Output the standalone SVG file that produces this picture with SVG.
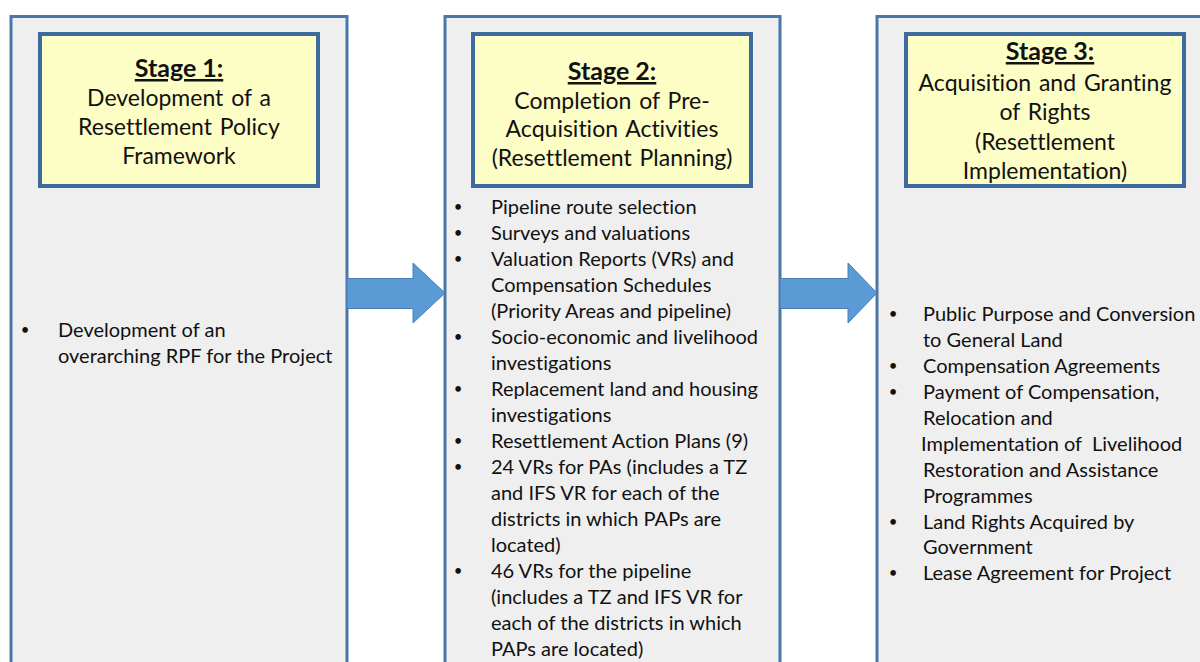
<svg xmlns="http://www.w3.org/2000/svg" width="1200" height="662" viewBox="0 0 1200 662">
<style>
.panel{fill:#efefef;stroke:#4a76a8;stroke-width:3}
.head{fill:#fdfdc6;stroke:#3e6b9e;stroke-width:4}
.arrow{fill:#5b9bd5;stroke:#4a7ebb;stroke-width:1}
text{font-family:Lato,"Liberation Sans",sans-serif;fill:#111;font-variant-ligatures:none}
.h{font-size:23px;text-anchor:middle;word-spacing:2px}
.st{font-size:25px;font-weight:bold;text-anchor:middle;text-decoration:underline}
.b{font-size:20px}
.d{font-size:15px;text-anchor:middle}
</style>
<rect width="1200" height="662" fill="#ffffff"/>
<g id="stage1">
<rect class="panel" x="11" y="16.5" width="336" height="660"/>
<rect class="head" x="40" y="34" width="278" height="152"/>
<text class="st" x="179" y="77">Stage 1:</text>
<text class="h" x="179" y="106">Development of a</text>
<text class="h" x="179" y="135">Resettlement Policy</text>
<text class="h" x="179" y="164">Framework</text>
<text class="d" x="25" y="335">•</text>
<text class="b" x="58" y="337">Development of an</text>
<text class="b" x="58" y="363">overarching RPF for the Project</text>
</g>
<g id="stage2">
<rect class="panel" x="445" y="16.5" width="335" height="660"/>
<rect class="head" x="473" y="34" width="278" height="152"/>
<text class="st" x="612" y="80">Stage 2:</text>
<text class="h" x="612" y="109">Completion of Pre-</text>
<text class="h" x="612" y="137">Acquisition Activities</text>
<text class="h" x="612" y="166">(Resettlement Planning)</text>
<text class="d" x="458" y="212">•</text>
<text class="b" x="491" y="214">Pipeline route selection</text>
<text class="d" x="458" y="238">•</text>
<text class="b" x="491" y="240">Surveys and valuations</text>
<text class="d" x="458" y="264">•</text>
<text class="b" x="491" y="266">Valuation Reports (VRs) and</text>
<text class="b" x="491" y="292">Compensation Schedules</text>
<text class="b" x="491" y="318">(Priority Areas and pipeline)</text>
<text class="d" x="458" y="342">•</text>
<text class="b" x="491" y="344">Socio-economic and livelihood</text>
<text class="b" x="491" y="370">investigations</text>
<text class="d" x="458" y="394">•</text>
<text class="b" x="491" y="396">Replacement land and housing</text>
<text class="b" x="491" y="422">investigations</text>
<text class="d" x="458" y="446">•</text>
<text class="b" x="491" y="448">Resettlement Action Plans (9)</text>
<text class="d" x="458" y="472">•</text>
<text class="b" x="491" y="474">24 VRs for PAs (includes a TZ</text>
<text class="b" x="491" y="500">and IFS VR for each of the</text>
<text class="b" x="491" y="526">districts in which PAPs are</text>
<text class="b" x="491" y="552">located)</text>
<text class="d" x="458" y="576">•</text>
<text class="b" x="491" y="578">46 VRs for the pipeline</text>
<text class="b" x="491" y="604">(includes a TZ and IFS VR for</text>
<text class="b" x="491" y="630">each of the districts in which</text>
<text class="b" x="491" y="656">PAPs are located)</text>
</g>
<g id="stage3">
<rect class="panel" x="877" y="16.5" width="340" height="660"/>
<rect class="head" x="906" y="34" width="278" height="152"/>
<text class="st" x="1050" y="60">Stage 3:</text>
<text class="h" x="1045" y="91">Acquisition and Granting</text>
<text class="h" x="1045" y="120">of Rights</text>
<text class="h" x="1045" y="150">(Resettlement</text>
<text class="h" x="1045" y="179">Implementation)</text>
<text class="d" x="893" y="319">•</text>
<text class="b" x="923" y="321">Public Purpose and Conversion</text>
<text class="b" x="923" y="347">to General Land</text>
<text class="d" x="893" y="371">•</text>
<text class="b" x="923" y="373">Compensation Agreements</text>
<text class="d" x="893" y="397">•</text>
<text class="b" x="923" y="399">Payment of Compensation,</text>
<text class="b" x="923" y="425">Relocation and</text>
<text class="b" x="921" y="451" xml:space="preserve">Implementation of  Livelihood</text>
<text class="b" x="923" y="477">Restoration and Assistance</text>
<text class="b" x="923" y="503">Programmes</text>
<text class="d" x="893" y="527">•</text>
<text class="b" x="923" y="529">Land Rights Acquired by</text>
<text class="b" x="923" y="554">Government</text>
<text class="d" x="893" y="578">•</text>
<text class="b" x="923" y="580">Lease Agreement for Project</text>
</g>
<g id="connectors">
<polygon class="arrow" points="347,278.5 413,278.5 413,263 445,293 413,323 413,308.5 347,308.5"/>
<polygon class="arrow" points="780,278.5 848,278.5 848,263 877,293 848,323 848,308.5 780,308.5"/>
</g>
</svg>
